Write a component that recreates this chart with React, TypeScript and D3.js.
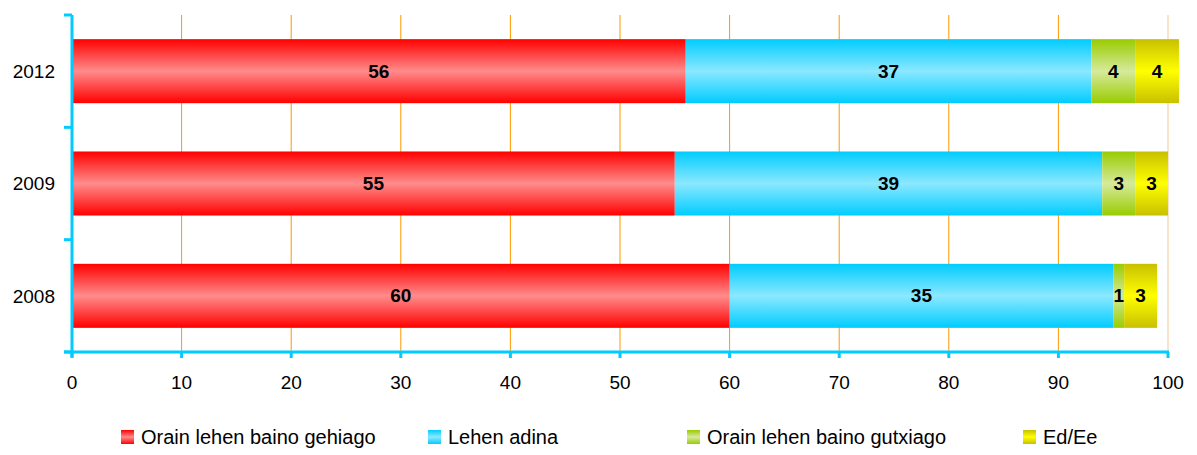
import React from "react";
import * as d3 from "d3";

const years = ["2012", "2009", "2008"];
const seriesNames = [
  "Orain lehen baino gehiago",
  "Lehen adina",
  "Orain lehen baino gutxiago",
  "Ed/Ee",
];
const moreValues = [56, 55, 60];
const sameValues = [37, 39, 35];
const lessValues = [4, 3, 1];
const dkValues = [4, 3, 3];
const xTicks = [0, 10, 20, 30, 40, 50, 60, 70, 80, 90, 100];

const colors = [
  { edge: "#FF0000", mid: "#FF8C8C" },
  { edge: "#00CCFF", mid: "#8CE8FF" },
  { edge: "#99CC00", mid: "#D6EA9C" },
  { edge: "#C8C000", mid: "#FFFF00" },
];
const legendX = [121, 428, 687, 1023];

export default function App() {
  const W = 1197, H = 455;
  const x = d3.scaleLinear().domain([0, 100]).range([72, 1168]);
  const y = d3.scaleBand<string>().domain(years).range([15, 352]).paddingInner(0.43).paddingOuter(0.215);
  const seriesVals = [moreValues, sameValues, lessValues, dkValues];
  const font = "Arial, 'Liberation Sans', sans-serif";
  const step = y.step();

  const segments: any[] = [];
  years.forEach((yr, i) => {
    let acc = 0;
    seriesVals.forEach((vals, s) => {
      const v = vals[i];
      segments.push({ yr, s, v, x0: acc, x1: acc + v });
      acc += v;
    });
  });

  return (
    <svg width={W} height={H} style={{ position: "absolute", left: 0, top: 0 }} fontFamily={font}>
      <defs>
        {colors.map((c, i) => (
          <linearGradient key={i} id={`g${i}`} x1="0" y1="0" x2="0" y2="1">
            <stop offset="0%" stopColor={c.edge} />
            <stop offset="50%" stopColor={c.mid} />
            <stop offset="100%" stopColor={c.edge} />
          </linearGradient>
        ))}
      </defs>
      {/* gridlines */}
      {xTicks.slice(1).map((t) => (
        <line key={t} x1={x(t)} x2={x(t)} y1={15} y2={352}
          stroke={t === 100 ? "#FBE3CB" : "#FF9900"} strokeWidth={t === 100 ? 2 : 1} />
      ))}
      {/* bars */}
      {segments.map((d, k) => (
        <rect key={k} x={x(d.x0)} y={y(d.yr)} width={x(d.x1) - x(d.x0)} height={y.bandwidth()}
          fill={`url(#g${d.s})`} />
      ))}
      {segments.map((d, k) => (
        <text key={"t" + k} x={(x(d.x0) + x(d.x1)) / 2} y={(y(d.yr) as number) + y.bandwidth() / 2}
          dy="0.34em" textAnchor="middle" fontWeight="bold" fontSize={19} fill="#000">{d.v}</text>
      ))}
      {/* axes */}
      <line x1={72} x2={72} y1={15} y2={357} stroke="#00CCFF" strokeWidth={3} />
      <line x1={64} x2={1169} y1={352} y2={352} stroke="#00CCFF" strokeWidth={3} />
      {[0, 1, 2, 3].map((k) => (
        <line key={k} x1={64} x2={72} y1={15 + k * step} y2={15 + k * step} stroke="#00CCFF" strokeWidth={3} />
      ))}
      {xTicks.map((t) => (
        <line key={t} x1={x(t)} x2={x(t)} y1={352} y2={358} stroke="#00CCFF" strokeWidth={3} />
      ))}
      {xTicks.map((t) => (
        <text key={t} x={x(t)} y={389} textAnchor="middle" fontSize={19} fill="#000">{t}</text>
      ))}
      {years.map((yr) => (
        <text key={yr} x={55} y={(y(yr) as number) + y.bandwidth() / 2} dy="0.36em" textAnchor="end" fontSize={19} fill="#000">{yr}</text>
      ))}
      {/* legend */}
      {seriesNames.map((n, i) => (
        <g key={n}>
          <rect x={legendX[i]} y={430} width={13} height={14} fill={`url(#g${i})`} />
          <text x={legendX[i] + 20} y={444} fontSize={20} fill="#000">{n}</text>
        </g>
      ))}
    </svg>
  );
}
